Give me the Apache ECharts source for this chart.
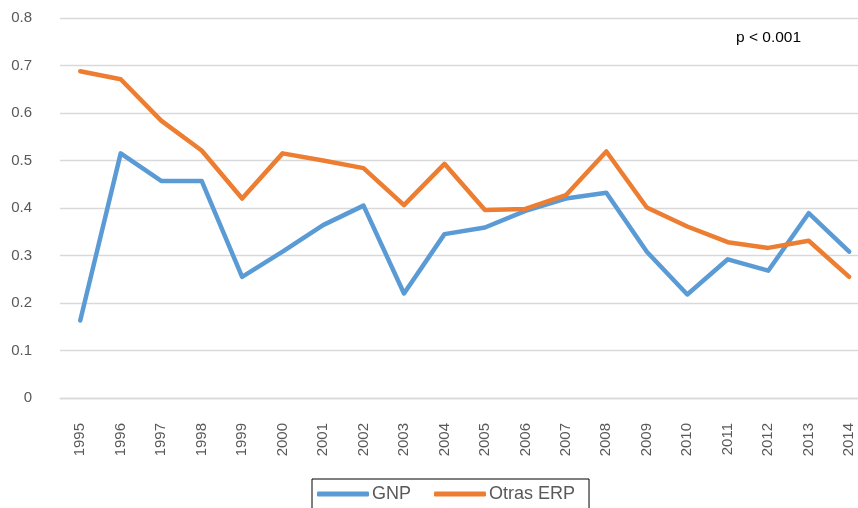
<!DOCTYPE html>
<html>
<head>
<meta charset="utf-8">
<script src="https://cdn.jsdelivr.net/npm/echarts@6/dist/echarts.min.js"></script>
<style>
html,body{margin:0;padding:0;background:#fff;overflow:hidden;width:858px;height:508px;}
#chart{width:870px;height:508px;}
</style>
</head>
<body>
<div id="chart"></div>
<script>
const years = ['1995','1996','1997','1998','1999','2000','2001','2002','2003','2004','2005','2006','2007','2008','2009','2010','2011','2012','2013','2014'];
const gnp = [0.163,0.515,0.457,0.457,0.255,0.308,0.364,0.405,0.220,0.345,0.359,0.394,0.420,0.432,0.308,0.218,0.292,0.268,0.389,0.308];
const otrasERP = [0.688,0.671,0.584,0.521,0.420,0.515,0.500,0.484,0.406,0.493,0.396,0.398,0.427,0.519,0.401,0.361,0.328,0.316,0.331,0.255];
const seriesNames = ['GNP','Otras ERP'];
const annotation = 'p < 0.001';

const chart = echarts.init(document.getElementById('chart'), null, {renderer:'canvas'});
const fontFamily = '"Liberation Sans", Arial, Helvetica, sans-serif';
chart.setOption({
  animation: false,
  backgroundColor: '#ffffff',
  grid: {left: 60, right: 0.6, top: 18, bottom: 110, containLabel: false},
  xAxis: {
    type: 'category',
    data: years,
    boundaryGap: true,
    axisLine: {show: true, lineStyle: {color: '#d9d9d9', width: 1.3}},
    axisTick: {show: false},
    axisLabel: {rotate: 90, margin: 25, color: '#595959', fontSize: 15, fontFamily: fontFamily, interval: 0}
  },
  yAxis: {
    type: 'value',
    min: 0, max: 0.8, interval: 0.1,
    axisLine: {show: false},
    axisTick: {show: false},
    splitLine: {lineStyle: {color: '#d9d9d9', width: 1.3}},
    axisLabel: {margin: 28, color: '#595959', fontSize: 15, fontFamily: fontFamily,
      formatter: v => v === 0 ? '0' : v.toFixed(1)}
  },
  legend: {
    data: seriesNames,
    left: 312, top: 479,
    orient: 'horizontal',
    borderColor: '#000', borderWidth: 1,
    padding: [6, 14, 14, 5],
    itemWidth: 52, itemHeight: 5, itemGap: 23,
    icon: 'roundRect',
    textStyle: {color: '#595959', fontSize: 18, fontFamily: fontFamily, padding: [0,0,0,-2]}
  },
  graphic: [{
    type: 'text', left: 736, top: 30,
    style: {text: annotation, fill: '#000', font: '15.5px ' + fontFamily}
  }],
  series: [
    {name: seriesNames[0], type: 'line', data: gnp, showSymbol: false, symbol: 'none',
     lineStyle: {color: '#5B9BD5', width: 4.5, cap: 'round', join: 'round'}, itemStyle: {color: '#5B9BD5'}},
    {name: seriesNames[1], type: 'line', data: otrasERP, showSymbol: false, symbol: 'none',
     lineStyle: {color: '#ED7D31', width: 4.5, cap: 'round', join: 'round'}, itemStyle: {color: '#ED7D31'}}
  ]
});
</script>
</body>
</html>
